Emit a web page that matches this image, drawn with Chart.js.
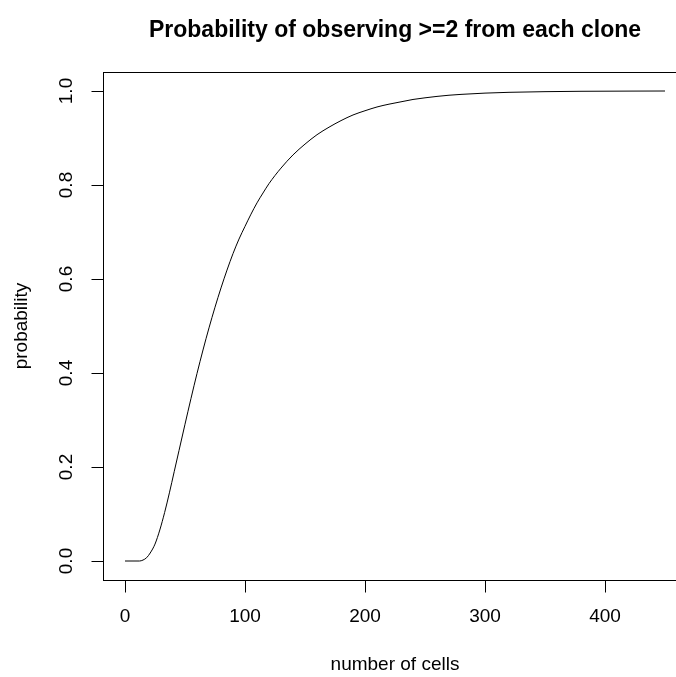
<!DOCTYPE html>
<html>
<head>
<meta charset="utf-8">
<script src="https://cdn.jsdelivr.net/npm/chart.js@4/dist/chart.umd.min.js"></script>
<style>
  html, body { margin: 0; padding: 0; background: #fff; overflow: hidden; }
  #wrap { width: 720px; height: 677px; }
</style>
</head>
<body>
<div id="wrap"><canvas id="plot" width="720" height="677"></canvas></div>
<script>
// values
const cells = [0, 10, 12, 15, 18, 21, 25, 29, 33, 37, 41, 45, 50, 55, 60, 65, 70, 75, 80, 85, 90, 95, 100, 105, 110, 115, 120, 130, 140, 150, 160, 170, 180, 190, 200, 210, 220, 230, 240, 250, 260, 270, 280, 300, 320, 350, 380, 420, 450];
const prob = [0, 0, 0, 0.002, 0.007, 0.017, 0.036, 0.066, 0.103, 0.145, 0.19, 0.235, 0.291, 0.346, 0.399, 0.449, 0.496, 0.54, 0.581, 0.619, 0.654, 0.685, 0.712, 0.738, 0.762, 0.783, 0.803, 0.836, 0.864, 0.887, 0.907, 0.923, 0.937, 0.949, 0.958, 0.966, 0.972, 0.977, 0.982, 0.9855, 0.9885, 0.991, 0.9928, 0.9955, 0.9972, 0.9986, 0.9994, 0.9998, 1.0];
const xTicks = [0, 100, 200, 300, 400];
const yTicks = [0, 0.2, 0.4, 0.6, 0.8, 1.0];
const yTickLabels = ["0.0", "0.2", "0.4", "0.6", "0.8", "1.0"];

const FONT = '"Liberation Sans", Arial, Helvetica, sans-serif';

const rAxes = {
  id: "rAxes",
  afterDraw(chart) {
    const ctx = chart.ctx;
    const a = chart.chartArea;
    const xs = chart.scales.x, ys = chart.scales.y;
    ctx.save();
    ctx.strokeStyle = "#000";
    ctx.fillStyle = "#000";
    ctx.lineWidth = 1;
    // box
    ctx.strokeRect(Math.round(a.left) + 0.5, Math.round(a.top) + 0.5,
      Math.round(a.right - a.left), Math.round(a.bottom - a.top));

    // x axis ticks + labels
    const by = Math.round(a.bottom) + 0.5;
    ctx.beginPath();
    ctx.moveTo(Math.round(xs.getPixelForValue(xTicks[0])) + 0.5, by);
    ctx.lineTo(Math.round(xs.getPixelForValue(xTicks[xTicks.length - 1])) + 0.5, by);
    xTicks.forEach(v => {
      const px = Math.round(xs.getPixelForValue(v)) + 0.5;
      ctx.moveTo(px, by);
      ctx.lineTo(px, by + 12);
    });
    ctx.stroke();
    ctx.font = "19px " + FONT;
    ctx.textAlign = "center";
    ctx.textBaseline = "middle";
    xTicks.forEach(v => ctx.fillText(String(v), xs.getPixelForValue(v), 617));

    // y axis ticks + labels
    const lx = Math.round(a.left) + 0.5;
    ctx.beginPath();
    ctx.moveTo(lx, Math.round(ys.getPixelForValue(yTicks[0])) + 0.5);
    ctx.lineTo(lx, Math.round(ys.getPixelForValue(yTicks[yTicks.length - 1])) + 0.5);
    yTicks.forEach(v => {
      const py = Math.round(ys.getPixelForValue(v)) + 0.5;
      ctx.moveTo(lx, py);
      ctx.lineTo(lx - 12, py);
    });
    ctx.stroke();
    yTicks.forEach((v, i) => {
      ctx.save();
      ctx.translate(67, ys.getPixelForValue(v));
      ctx.rotate(-Math.PI / 2);
      ctx.fillText(yTickLabels[i], 0, 0);
      ctx.restore();
    });

    // axis titles
    const cx = (a.left + a.right) / 2;
    const cy = (a.top + a.bottom) / 2;
    ctx.fillText("number of cells", cx, 665);
    ctx.save();
    ctx.translate(22, cy);
    ctx.rotate(-Math.PI / 2);
    ctx.fillText("probability", 0, 0);
    ctx.restore();

    // main title
    ctx.font = "bold 23px " + FONT;
    ctx.fillText("Probability of observing >=2 from each clone", cx, 31);
    ctx.restore();
  }
};

new Chart(document.getElementById("plot"), {
  type: "line",
  data: {
    datasets: [{
      data: cells.map((c, i) => ({ x: c, y: prob[i] })),
      borderColor: "#000",
      borderWidth: 1,
      pointRadius: 0,
      fill: false,
      cubicInterpolationMode: "monotone",
    }],
  },
  options: {
    responsive: false,
    animation: false,
    devicePixelRatio: 1,
    layout: { padding: { left: 103.4, top: 72.2, right: 33.4, bottom: 97.2 } },
    plugins: { legend: { display: false }, tooltip: { enabled: false } },
    scales: {
      x: { type: "linear", min: -18, max: 468, display: false },
      y: { type: "linear", min: -0.04, max: 1.04, display: false },
    },
  },
  plugins: [rAxes],
});
</script>
</body>
</html>
